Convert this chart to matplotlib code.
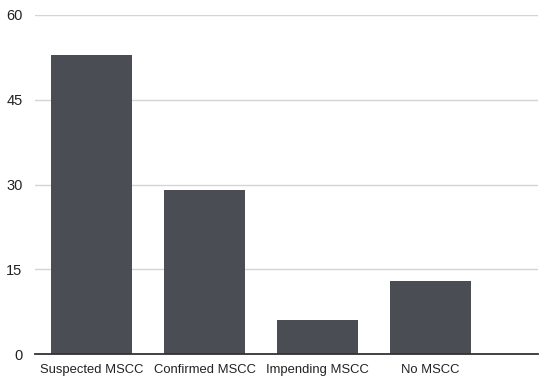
import matplotlib
matplotlib.use('Agg')
import matplotlib.pyplot as plt

categories = ['Suspected MSCC', 'Confirmed MSCC', 'Impending MSCC', 'No MSCC']
counts = [53, 29, 6, 13]
yticks = [0, 15, 30, 45, 60]

plt.rcParams['font.family'] = ['Liberation Sans', 'DejaVu Sans']

fig = plt.figure(figsize=(5.5, 3.79), dpi=100)
ax = fig.add_axes([35 / 550, 25 / 379, 503 / 550, 339 / 379])

x = list(range(len(categories)))
ax.bar(x, counts, width=0.72, color='#4a4e54', zorder=3)

ax.set_xlim(-0.5, 3.95)
ax.set_ylim(0, 60)
ax.set_yticks(yticks)
ax.set_yticklabels([str(t) for t in yticks], fontsize=10.5, color='#222222')
ax.set_xticks(x)
ax.set_xticklabels(categories, fontsize=9.4, color='#222222')
ax.tick_params(axis='both', length=0)
ax.tick_params(axis='y', pad=9)
ax.tick_params(axis='x', pad=7)

for t in yticks[1:]:
    ax.axhline(t, color='#d4d4d4', linewidth=1, zorder=1)

for side in ['top', 'right', 'left']:
    ax.spines[side].set_visible(False)
ax.spines['bottom'].set_color('#333333')
ax.spines['bottom'].set_linewidth(1.3)
ax.spines['bottom'].set_zorder(4)

fig.savefig('out.png', dpi=100)
